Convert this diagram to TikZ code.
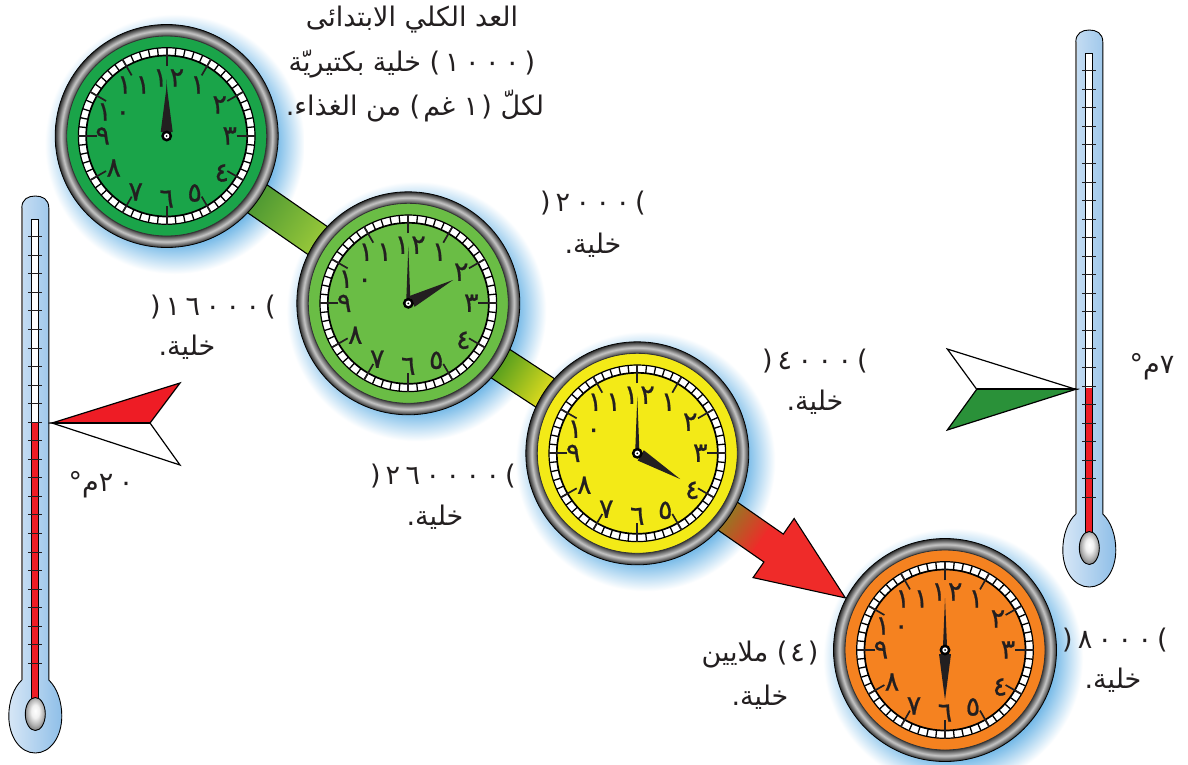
\documentclass[tikz,border=0pt]{standalone}
\usepackage{fontspec}
\usetikzlibrary{calc}
\TeXXeTstate=1
\newfontfamily\arabicfont[Script=Arabic]{DejaVu Sans}
\newfontfamily\arabicnum[Script=Arabic,FakeBold=0.7]{DejaVu Sans}
\definecolor{glowb}{HTML}{6DB5E6}
\definecolor{cA}{HTML}{1AA449}
\definecolor{cB}{HTML}{6ABD45}
\definecolor{cC}{HTML}{F3EA17}
\definecolor{cD}{HTML}{F58220}
\definecolor{arrowred}{HTML}{EF2B29}
\definecolor{flagred}{HTML}{EE1C25}
\definecolor{flaggreen}{HTML}{2A9139}
\definecolor{ink}{HTML}{231F20}
\definecolor{tubeL}{HTML}{D6E6F6}
\definecolor{tubeR}{HTML}{8FBFE8}
\definecolor{bandAa}{HTML}{4A9632}
\definecolor{bandAb}{HTML}{9CCB3A}
\definecolor{bandBa}{HTML}{4C9A1E}
\definecolor{bandBb}{HTML}{E8E01E}
\definecolor{bandCa}{HTML}{8D7F22}
\pgfdeclareradialshading{glow}{\pgfpointorigin}{color(0bp)=(glowb); color(19bp)=(glowb); color(25bp)=(white); color(50bp)=(white)}
\pgfdeclareradialshading{metal}{\pgfpointorigin}{color(0bp)=(gray); color(22.3bp)=(black!78); color(23.7bp)=(black!22); color(25bp)=(black!82); color(50bp)=(black!82)}
\pgfdeclareradialshading{bulbmetal}{\pgfqpoint{0bp}{5bp}}{color(0bp)=(white); color(10bp)=(black!6); color(20bp)=(black!30); color(30bp)=(black!60); color(50bp)=(black!60)}
\tikzset{
  lbl/.style={font=\arabicfont\fontsize{27}{27}\selectfont,inner sep=0pt,text=ink},
  num/.style={font=\arabicnum\fontsize{27}{27}\selectfont,inner sep=0pt,text=ink},
  bandedge/.style={draw=black,line width=1.1pt},
  flagline/.style={draw=black,line width=1.2pt,line join=miter},
}
\newcommand\sk{\hskip 5.5pt\relax}
\newcommand\pk{\hskip 5pt\relax}
\newcommand\tk{\hskip 3pt\relax}
\newcommand\clockbody[2]{%
  \fill[#2] (#1) circle (100);
  \fill[white] (#1) circle (88);
  \foreach \m in {0,6,...,354}{\draw[black,line width=1.3pt] ($(#1)+(\m:80)$) -- ($(#1)+(\m:88)$);}
  \draw[black,line width=1.2pt] (#1) circle (88.3);
  \fill[#2] (#1) circle (80.5);
  \draw[black,line width=1.7pt] (#1) circle (80.5);
  \foreach \m in {0,30,...,330}{\draw[ink,line width=1.7pt] ($(#1)+(\m:70)$) -- ($(#1)+(\m:88.5)$);}
  \foreach \v/\dx/\dy/\t in {a/31/-51/١,b/53/-31/٢,c/63/0/٣,d/55/37/٤,e/28/57/٥,f/0/63/٦,g/-31/56/٧,h/-53/32/٨,i/-64/0/٩,j/-53/-24/{١\hskip 4pt ٠},k/-33/-51/{١\hskip 4pt ١},l/2/-58/{١\hskip 2pt ٢}}{
    \node[num] (#1n\v) at ($(#1)+(\dx,\dy)$) {\t};}
}
\newcommand\clockring[1]{%
  \shade[shading=metal,even odd rule] (#1) circle (111.5) circle (100);
  \draw[black,line width=.8pt] (#1) circle (111.5);
  \draw[black!80,line width=.8pt] (#1) circle (100);
}
\newcommand\clockhand[4]{% name, angle, length, half width
  \begin{scope}[shift={(#1)},rotate=#2]
    \fill[ink] (4,-#4) -- (#3,0) -- (4,#4) -- cycle;
  \end{scope}}
\newcommand\clockpivot[1]{%
  \fill[black] (#1) circle (5.5);
  \fill[white] (#1) circle (2.7);
  \fill[black] (#1) circle (1);}
\newcommand\tubepath[1]{%
  (-13.5,-36) -- (-13.5,#1+12) .. controls (-13.5,#1+3) and (-7,#1) .. (0,#1)
  .. controls (7,#1) and (13.5,#1+3) .. (13.5,#1+12) -- (13.5,-36)
  .. controls (22,-28) and (26.5,-14) .. (26.5,0)
  .. controls (26.5,21) and (15,37) .. (0,37)
  .. controls (-15,37) and (-26.5,21) .. (-26.5,0)
  .. controls (-26.5,-14) and (-22,-28) .. cycle}
\newcommand\thermo[3]{% centre coordinate of bulb, relative top, relative red start
  \begin{scope}[shift={(#1)}]
  \shade[left color=tubeL,right color=tubeR] \tubepath{#2};
  \draw[black,line width=.9pt] \tubepath{#2};
  \draw[black!55,line width=1.6pt] (-13.5,-36) -- (-13.5,#2+12);
  \fill[white] (-3.5,#2+23) rectangle (3.5,0);
  \fill[flagred] (-3.5,#3) rectangle (3.5,0);
  \draw[black,line width=.9pt] (-3.5,-16) -- (-3.5,#2+23) -- (3.5,#2+23) -- (3.5,-16);
  \foreach \k in {0,...,23}{\draw[ink,line width=1pt] (-7,{#2+40.7+\k*18.55}) -- (7,{#2+40.7+\k*18.55});}
  \shade[shading=bulbmetal] (0,-2) ellipse [x radius=10,y radius=16.5];
  \draw[black,line width=.9pt] (0,-2) ellipse [x radius=10,y radius=16.5];
  \end{scope}}
\begin{document}
\begin{tikzpicture}[x=1pt,y=-1pt]
\useasboundingbox (0,0) rectangle (1188,764);
\fill[white] (0,0) rectangle (1188,764);
\coordinate (c1) at (166.7,136);
\coordinate (c2) at (408.3,303.3);
\coordinate (c3) at (637.3,453.3);
\coordinate (c4) at (945,650);
\coordinate (th1) at (35.3,716);
\coordinate (th2) at (1089.3,550);
% glows
\foreach \c in {c1,c2,c3,c4}{\shade[shading=glow] ($(\c)+(8,8)$) circle (130);}
% connector 1
\begin{scope}[transform canvas={shift={(c1)},rotate=-34.7}]
  \shade[left color=bandAa,right color=bandAb] (105,-17) rectangle (190,17);
  \draw[bandedge] (105,-17) -- (190,-17) (105,17) -- (190,17);
\end{scope}
% connector 2
\begin{scope}[transform canvas={shift={(c2)},rotate=-33.2}]
  \shade[left color=bandBa,right color=bandBb] (105,-17) rectangle (170,17);
  \draw[bandedge] (105,-17) -- (170,-17) (105,17) -- (170,17);
\end{scope}
% arrow connector
\begin{scope}[transform canvas={shift={(c3)},rotate=-34.8}]
  \shade[left color=bandCa,right color=arrowred] (105,-17) rectangle (152,17);
  \fill[arrowred] (151,-17) -- (166,-17) -- (166,-36) -- (253.4,0) -- (166,36) -- (166,17) -- (151,17) -- cycle;
  \draw[bandedge,line join=miter] (105,-17) -- (166,-17) -- (166,-36) -- (253.4,0) -- (166,36) -- (166,17) -- (105,17);
\end{scope}
% clocks
\clockbody{c1}{cA}\clockring{c1}
\clockhand{c1}{90}{57}{2}\clockhand{c1}{90}{50}{6}\clockpivot{c1}
\clockbody{c2}{cB}\clockring{c2}
\clockhand{c2}{90}{57}{2}\clockhand{c2}{27.5}{50.5}{6}\clockpivot{c2}
\clockbody{c3}{cC}\clockring{c3}
\clockhand{c3}{90}{57}{2}\clockhand{c3}{-31}{50}{6}\clockpivot{c3}
\clockbody{c4}{cD}\clockring{c4}
\clockhand{c4}{90}{52}{2}\clockhand{c4}{-90}{50}{6}\clockpivot{c4}
% thermometers
\thermo{th1}{-520}{-293}
\thermo{th2}{-520}{-162}
% flags
\coordinate (fl) at (52,423);
\coordinate (fr) at (1075.7,389.3);
\filldraw[flagline,fill=white] (fl) -- (180,465) -- (150,423) -- cycle;
\filldraw[flagline,fill=flagred] (fl) -- (180,383) -- (150,423) -- cycle;
\draw[black,line width=1.8pt] (fl) -- (150,423);
\filldraw[flagline,fill=white] (fr) -- (947.3,349) -- (976.7,389.3) -- cycle;
\filldraw[flagline,fill=flaggreen] (fr) -- (947.3,430) -- (976.7,389.3) -- cycle;
\draw[black,line width=1.8pt] (fr) -- (976.7,389.3);
% labels
\node[lbl] (t1) at (412,20) {\beginR العد الكلي الابتدائى\endR};
\node[lbl] (t2) at (412,64) {\beginR (\beginL\pk ١\sk ٠\sk ٠\sk ٠\pk\endL) خلية بكتيريّة\endR};
\node[lbl] (t3) at (415,106) {\beginR لكلّ (\tk ١ غم\tk) من الغذاء.\endR};
\node[lbl] (a1) at (593,203) {(\pk ٢\sk ٠\sk ٠\sk ٠\pk)};
\node[lbl] (a2) at (593,245) {\beginR خلية.\endR};
\node[lbl] (b1) at (213,307) {(\pk ١\sk ٦\sk ٠\sk ٠\sk ٠\pk)};
\node[lbl] (b2) at (187,347) {\beginR خلية.\endR};
\node[lbl] (d1) at (815,361) {(\pk ٤\sk ٠\sk ٠\sk ٠\pk)};
\node[lbl] (d2) at (815,402) {\beginR خلية.\endR};
\node[lbl] (e1) at (443,476) {(\pk ٢\sk ٦\sk ٠\sk ٠\sk ٠\sk ٠\pk)};
\node[lbl] (e2) at (435,517) {\beginR خلية.\endR};
\node[lbl] (f1) at (760,655) {\beginR (\tk ٤\tk) ملايين\endR};
\node[lbl] (f2) at (760,697) {\beginR خلية.\endR};
\node[lbl] (g1) at (1115,640) {(\pk ٨\sk ٠\sk ٠\sk ٠\pk)};
\node[lbl] (g2) at (1113,680) {\beginR خلية.\endR};
\node[lbl] (h1) at (101,485) {\beginR\beginL ٢\sk ٠\endL م°\endR};
\node[lbl] (h2) at (1152,367) {\beginR ٧م°\endR};
\end{tikzpicture}
\end{document}
